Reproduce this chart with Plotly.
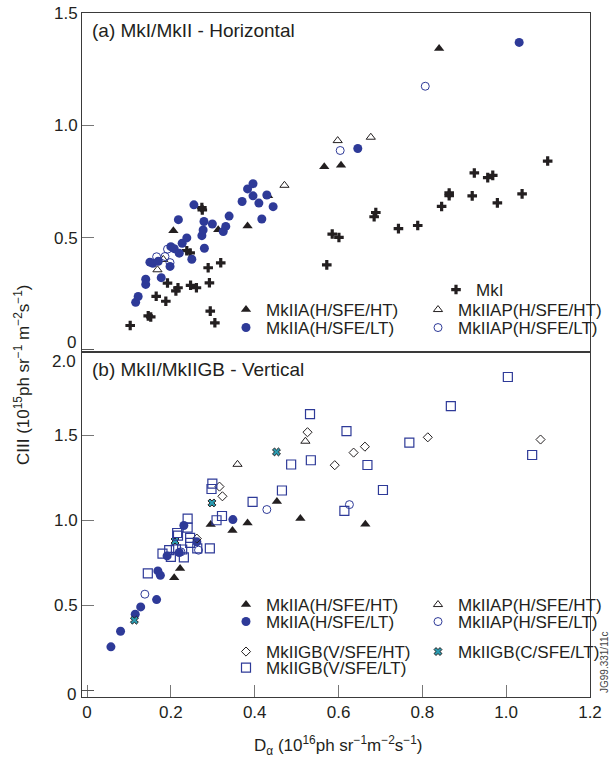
import plotly.graph_objects as go
from plotly.subplots import make_subplots

# ---------------- Panel (a) MkI/MkII - Horizontal ----------------
mk1_x = [0.103, 0.146, 0.152, 0.165, 0.188, 0.192, 0.212, 0.217, 0.247, 0.261, 0.292, 0.289,
         0.319, 0.238, 0.246, 0.274, 0.275, 0.294, 0.305, 0.585, 0.601, 0.572, 0.689, 0.685,
         0.743, 0.789, 0.846, 0.864, 0.864, 0.919, 0.924, 0.956, 0.968, 0.979, 1.038, 1.099]
mk1_y = [0.109, 0.152, 0.147, 0.239, 0.217, 0.298, 0.263, 0.277, 0.288, 0.277, 0.299, 0.366,
         0.388, 0.442, 0.432, 0.634, 0.623, 0.173, 0.121, 0.516, 0.501, 0.379, 0.612, 0.593,
         0.540, 0.554, 0.639, 0.699, 0.687, 0.686, 0.788, 0.767, 0.777, 0.655, 0.695, 0.841]

a_ht_top_x = [0.206, 0.313, 0.383, 0.566, 0.606, 0.432, 0.840]
a_ht_top_y = [0.531, 0.535, 0.552, 0.816, 0.822, 0.687, 1.342]

ap_ht_top_x = [0.168, 0.182, 0.598, 0.471, 0.677]
ap_ht_top_y = [0.357, 0.403, 0.932, 0.733, 0.947]

a_lt_top_x = [0.116, 0.122, 0.140, 0.140, 0.150, 0.157, 0.170, 0.177, 0.198, 0.200, 0.208, 0.220,
              0.227, 0.238, 0.218, 0.250, 0.255, 0.274, 0.277, 0.280, 0.279, 0.299, 0.325, 0.331,
              0.339, 0.370, 0.383, 0.396, 0.396, 0.410, 0.429, 0.417, 0.444, 0.646, 1.031]
a_lt_top_y = [0.212, 0.238, 0.292, 0.315, 0.391, 0.386, 0.395, 0.322, 0.372, 0.460, 0.451, 0.431,
              0.475, 0.499, 0.580, 0.404, 0.646, 0.509, 0.534, 0.453, 0.572, 0.561, 0.527, 0.550,
              0.596, 0.661, 0.717, 0.740, 0.686, 0.654, 0.690, 0.583, 0.638, 0.897, 1.369]

ap_lt_top_x = [0.166, 0.186, 0.192, 0.198, 0.604, 0.807]
ap_lt_top_y = [0.415, 0.416, 0.449, 0.389, 0.888, 1.174]

# ---------------- Panel (b) MkII/MkIIGB - Vertical ----------------
a_ht_bot_x = [0.208, 0.222, 0.295, 0.347, 0.383, 0.453, 0.509, 0.664]
a_ht_bot_y = [0.661, 0.716, 0.975, 0.939, 0.984, 1.110, 1.010, 0.976]

ap_ht_bot_x = [0.359, 0.521]
ap_ht_bot_y = [1.329, 1.465]

a_lt_bot_x = [0.057, 0.080, 0.115, 0.128, 0.166, 0.169, 0.175, 0.191, 0.220, 0.231, 0.262, 0.348]
a_lt_bot_y = [0.255, 0.347, 0.447, 0.490, 0.533, 0.702, 0.676, 0.790, 0.810, 0.969, 0.873, 1.004]

ap_lt_bot_x = [0.138, 0.266, 0.429, 0.626, 0.224]
ap_lt_bot_y = [0.565, 0.824, 1.063, 1.092, 0.814]

gbv_ht_x = [0.316, 0.323, 0.262, 0.526, 0.591, 0.636, 0.663, 0.813, 1.082]
gbv_ht_y = [1.198, 1.141, 0.892, 1.518, 1.324, 1.398, 1.433, 1.488, 1.475]

gbv_lt_x = [0.145, 0.180, 0.196, 0.200, 0.215, 0.217, 0.212, 0.227, 0.231, 0.240, 0.240, 0.246,
            0.246, 0.263, 0.293, 0.309, 0.322, 0.299, 0.297, 0.395, 0.465, 0.487, 0.532, 0.534,
            0.619, 0.614, 0.669, 0.706, 0.769, 0.868, 1.004, 1.062]
gbv_lt_y = [0.688, 0.804, 0.824, 0.784, 0.925, 0.910, 0.829, 0.828, 0.781, 1.010, 0.957, 0.896,
            0.867, 0.834, 0.835, 1.000, 1.025, 1.216, 1.184, 1.108, 1.175, 1.328, 1.625, 1.353,
            1.525, 1.055, 1.325, 1.178, 1.457, 1.672, 1.843, 1.384]

gbc_lt_x = [0.113, 0.210, 0.298, 0.452]
gbc_lt_y = [0.412, 0.878, 1.102, 1.402]

x_ticks = [0, 0.2, 0.4, 0.6, 0.8, 1.0, 1.2]
x_tick_text = ["0", "0.2", "0.4", "0.6", "0.8", "1.0", "1.2"]
top_y_ticks = [0.5, 1.0, 1.5]
top_y_text = ["0.5", "1.0", "1.5"]
bot_y_ticks = [0.5, 1.0, 1.5]
bot_y_text = ["0.5", "1.0", "1.5"]

BLUE = "#2E3A98"
BLACK = "#231F20"
FONT = "Liberation Sans, Arial, sans-serif"

fig = make_subplots(rows=2, cols=1, shared_xaxes=True, vertical_spacing=0)


def add(x, y, name, symbol, size, color, row, legend, lw=0, lc=None):
    fig.add_trace(go.Scatter(
        x=x, y=y, mode="markers", name=name, legend=legend, showlegend=True,
        marker=dict(symbol=symbol, size=size, color=color,
                    line=dict(width=lw, color=lc if lc else color)),
    ), row=row, col=1)


# top panel
add(mk1_x, mk1_y, "MkI", "cross", 8, BLACK, 1, "legend")
add(a_ht_top_x, a_ht_top_y, "MkIIA(H/SFE/HT)", "triangle-up", 9, BLACK, 1, "legend2")
add(ap_ht_top_x, ap_ht_top_y, "MkIIAP(H/SFE/HT)", "triangle-up-open", 8, BLACK, 1, "legend3", lw=1)
add(a_lt_top_x, a_lt_top_y, "MkIIA(H/SFE/LT)", "circle", 9, BLUE, 1, "legend4")
add(ap_lt_top_x, ap_lt_top_y, "MkIIAP(H/SFE/LT)", "circle-open", 8, BLUE, 1, "legend5", lw=1)

# bottom panel
add(a_ht_bot_x, a_ht_bot_y, "MkIIA(H/SFE/HT)", "triangle-up", 9, BLACK, 2, "legend6")
add(ap_ht_bot_x, ap_ht_bot_y, "MkIIAP(H/SFE/HT)", "triangle-up-open", 8, BLACK, 2, "legend7", lw=1)
add(a_lt_bot_x, a_lt_bot_y, "MkIIA(H/SFE/LT)", "circle", 9, BLUE, 2, "legend8")
add(ap_lt_bot_x, ap_lt_bot_y, "MkIIAP(H/SFE/LT)", "circle-open", 8, BLUE, 2, "legend9", lw=1)
add(gbv_ht_x, gbv_ht_y, "MkIIGB(V/SFE/HT)", "diamond-open", 7, BLACK, 2, "legend10", lw=1)
add(gbc_lt_x, gbc_lt_y, "MkIIGB(C/SFE/LT)", "x", 7, "#2A9BB0", 2, "legend11", lw=1, lc=BLACK)
add(gbv_lt_x, gbv_lt_y, "MkIIGB(V/SFE/LT)", "square-open", 9, BLUE, 2, "legend12", lw=1.2)

# layout geometry (pixels -> paper)
W, H = 610, 758
L, R, T, B = 82, 20, 13, 61
PW, PH = W - L - R, H - T - B
split = (697 - 352) / PH


def px(xp):
    return (xp - L) / PW


def py(yp):
    return (697 - yp) / PH


axis_common = dict(showline=True, linecolor="#3a3a3a", linewidth=1, mirror=True,
                   ticklen=12, tickcolor="#777777", tickwidth=1,
                   showgrid=False, zeroline=False,
                   tickfont=dict(family=FONT, size=17, color=BLACK))
zero_minor = dict(tickmode="array", tickvals=[0], ticks="inside", ticklen=12,
                  tickcolor="#555555", tickwidth=1, showgrid=False)

fig.update_layout(
    width=W, height=H,
    showlegend=True,
    margin=dict(l=L, r=R, t=T, b=B, autoexpand=False),
    paper_bgcolor="white", plot_bgcolor="white",
    font=dict(family=FONT, size=17, color=BLACK),
    xaxis=dict(range=[-0.012, 1.2], tickvals=x_ticks, ticktext=x_tick_text, ticks="",
               showticklabels=False, **axis_common),
    xaxis2=dict(range=[-0.012, 1.2], tickvals=x_ticks, ticktext=x_tick_text, ticks="inside",
                **axis_common),
    yaxis=dict(domain=[split, 1], range=[-0.009, 1.5], tickvals=top_y_ticks, ticks="inside",
               ticktext=top_y_text, minor=zero_minor, **axis_common),
    yaxis2=dict(domain=[0, split], range=[-0.04, 1.99], tickvals=bot_y_ticks, ticks="inside",
                ticktext=bot_y_text, minor=zero_minor, **axis_common),
)

leg_common = dict(orientation="h", xanchor="left", yanchor="middle", visible=True,
                  bgcolor="rgba(0,0,0,0)", itemwidth=30,
                  font=dict(family=FONT, size=17, color=BLACK), xref="paper", yref="paper")
c1 = px(226)
c2 = px(418)
legend_pos = {
    "legend": (px(436), py(290)),
    "legend2": (c1, py(310)), "legend3": (c2, py(310)),
    "legend4": (c1, py(328)), "legend5": (c2, py(328)),
    "legend6": (c1, py(605)), "legend7": (c2, py(605)),
    "legend8": (c1, py(622)), "legend9": (c2, py(622)),
    "legend10": (c1, py(652)), "legend11": (c2, py(652)),
    "legend12": (c1, py(668)),
}
fig.update_layout(**{k: dict(x=v[0], y=v[1], **leg_common) for k, v in legend_pos.items()})

ann = [
    dict(text="(a) MkI/MkII - Horizontal", x=px(90), y=py(30), xanchor="left",
         yanchor="middle", font=dict(size=19)),
    dict(text="(b) MkII/MkIIGB - Vertical", x=px(90), y=py(369), xanchor="left",
         yanchor="middle", font=dict(size=19)),
    dict(text="0", x=px(78), y=py(342), xanchor="right", yanchor="middle"),
    dict(text="2.0", x=px(78), y=py(361), xanchor="right", yanchor="middle"),
    dict(text="0", x=px(78), y=py(694), xanchor="right", yanchor="middle"),
    dict(text="CIII (10<sup>15</sup>ph sr<sup>−1</sup> m<sup>−2</sup>s<sup>−1</sup>)",
         x=px(22), y=py(375), xanchor="center", yanchor="middle", textangle=-90),
    dict(text="D<sub>α</sub> (10<sup>16</sup>ph sr<sup>−1</sup>m<sup>−2</sup>s<sup>−1</sup>)",
         x=px(338), y=py(745), xanchor="center", yanchor="middle"),
    dict(text="JG99.331/11c", x=px(604), y=py(662), xanchor="center", yanchor="middle",
         textangle=-90, font=dict(size=10, color="#444444")),
]
for a in ann:
    a.update(xref="paper", yref="paper", showarrow=False)
    a.setdefault("font", dict(size=17))
    a["font"].setdefault("family", FONT)
    a["font"].setdefault("color", BLACK)
fig.update_layout(annotations=ann)

fig.write_html("out.html")
